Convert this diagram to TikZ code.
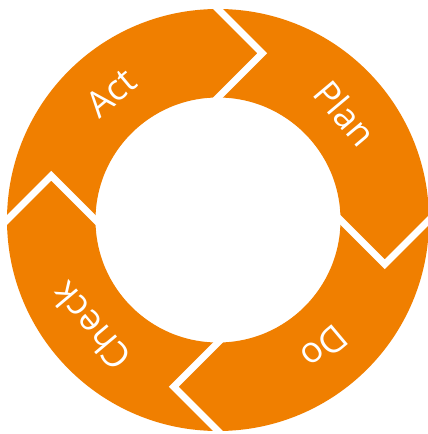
\documentclass[tikz,border=0pt]{standalone}
\usepackage{fontspec}
\setmainfont{Open Sans}
\usetikzlibrary{calc}
\definecolor{pdcaorange}{RGB}{240,127,0}
\tikzset{
  phase/.style={text=white,font=\fontsize{36}{40}\selectfont,inner sep=0pt},
  gap/.style={draw=white,line width=7pt,line join=miter},
}
\begin{document}
\begin{tikzpicture}
\useasboundingbox (-218pt,-214pt) rectangle (210pt,220pt);
% ring
\fill[pdcaorange,even odd rule] (0,0) circle (211pt) (0,0) circle (122.5pt);
% gaps between the phases
\foreach \a in {90,0,-90,180}{
  \draw[gap] ($(\a:211pt)+(\a+45:12pt)$) -- (\a:211pt) -- (\a-14.86:172.5pt)
    -- (\a:122.5pt) -- ($(\a:122.5pt)+(\a+135:12pt)$);
}
% phase labels
\node[phase,rotate=-50] (plan) at (40:166pt) {Plan};
\node[phase,rotate=-140] (do) at (-50:166pt) {Do};
\node[phase,rotate=130] (check) at (220:166pt) {Check};
\node[phase,rotate=40] (act) at (130:166pt) {Act};
\end{tikzpicture}
\end{document}
